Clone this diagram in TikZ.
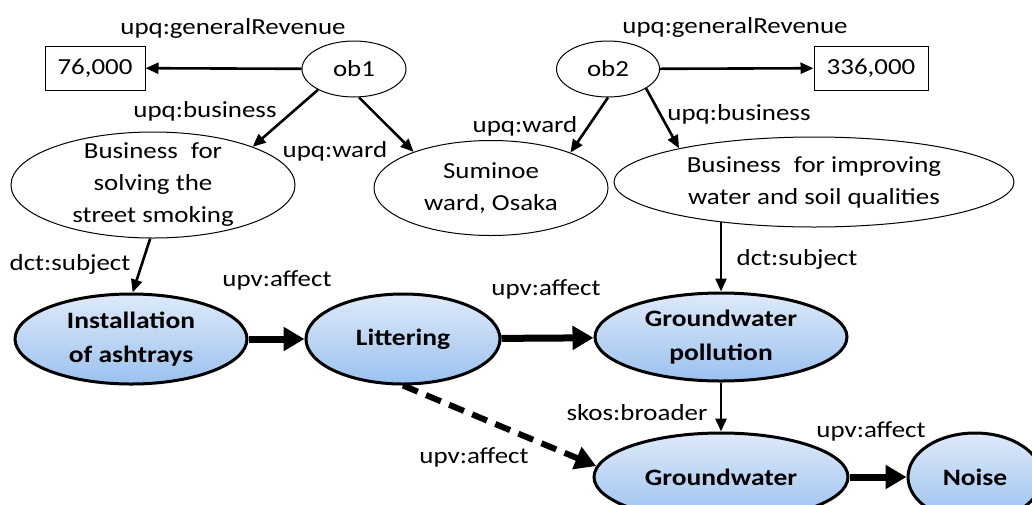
\documentclass[tikz,border=0pt]{standalone}
\usepackage{fontspec}
\setmainfont{Carlito}[FakeStretch=1.17]
\usetikzlibrary{arrows.meta,shapes.geometric}
\definecolor{topicTop}{HTML}{DEEAF9}
\definecolor{topicBot}{HTML}{9BC1EF}
\begin{document}
\begin{tikzpicture}[x=1pt,y=-1pt,
  every node/.style={font=\fontsize{23}{32}\selectfont},
  plain/.style={ellipse,draw,line width=1pt,inner sep=0pt},
  valbox/.style={rectangle,draw,line width=1pt,minimum height=44pt,inner sep=0pt},
  topic/.style={ellipse,draw,line width=3pt,inner sep=0pt,
    top color=topicTop,bottom color=topicBot},
  topictxt/.style={align=center,font=\fontsize{23.5}{34}\selectfont\bfseries},
  plaintxt/.style={align=center},
  rel/.style={line width=2.6pt,-{Triangle[length=13pt,width=11pt]}},
  strong/.style={line width=7pt,-{Triangle[length=21pt,width=23pt]}},
  weak/.style={line width=6pt,dash pattern=on 16pt off 9pt,-{Triangle[length=21pt,width=23pt]}},
  lbl/.style={anchor=base,inner sep=0pt}]
\useasboundingbox (0,0) rectangle (1032,504);
\clip (0,0) rectangle (1032,504);

% resource nodes
\node[valbox,minimum width=100pt] (v1) at (95,68) {76,000};
\node[valbox,minimum width=114pt] (v2) at (871,68) {336,000};
\node[plain,minimum width=104pt,minimum height=56pt] (ob1) at (354,69) {ob1};
\node[plain,minimum width=103pt,minimum height=56pt] (ob2) at (608,69) {ob2};
\node[plain,minimum width=284pt,minimum height=106pt,
  label={[plaintxt]center:Business\hspace{.3em} for\\solving the\\street smoking}] (bs) at (153,185) {};
\node[plain,minimum width=234pt,minimum height=95pt,
  label={[plaintxt]center:Suminoe\\ward, Osaka}] (sw) at (491,188) {};
\node[plain,minimum width=400pt,minimum height=90pt,
  label={[plaintxt]center:Business\hspace{.3em} for improving\\water and soil qualities}] (bi) at (814,182) {};

% topic nodes
\node[topic,minimum width=232pt,minimum height=90pt,
  label={[topictxt]center:Installation\\of ashtrays}] (inst) at (131,339) {};
\node[topic,minimum width=194pt,minimum height=90pt,
  label={[topictxt]center:Littering}] (lit) at (403,339) {};
\node[topic,minimum width=252pt,minimum height=88pt,
  label={[topictxt]center:Groundwater\\pollution}] (gp) at (721,337) {};
\node[topic,minimum width=254pt,minimum height=88pt,
  label={[topictxt]center:Groundwater}] (gw) at (721,477) {};
\node[topic,minimum width=134pt,minimum height=88pt,
  label={[topictxt]center:Noise}] (noise) at (975,477) {};

% thin relations
\draw[rel] (ob1) -- (v1);
\draw[rel] (ob2) -- (v2);
\draw[rel] (ob1.210) -- (bs.21);
\draw[rel] (ob1.-80) -- (sw.155);
\draw[rel] (ob2.270) -- (sw.24);
\draw[rel] (ob2.-27) -- (bi.166);
\draw[rel] (bs.267) -- (inst.88);
\draw[rel] (gp.north |- bi.203) -- (gp.north);
\draw[rel] (gp) -- (gw);

% effect relations
\draw[strong] (inst) -- (lit);
\draw[strong] (lit) -- (gp);
\draw[strong] (gw) -- (noise);
\draw[weak] (lit.south) -- (gw.175);

% relation labels
\node[lbl] (l1) at (233,34) {upq:generalRevenue};
\node[lbl] (l2) at (735,33) {upq:generalRevenue};
\node[lbl] (l3) at (205,117) {upq:business};
\node[lbl] (l4) at (335,157) {upq:ward};
\node[lbl] (l5) at (525,132) {upq:ward};
\node[lbl] (l6) at (739,120) {upq:business};
\node[lbl] (l7) at (70,270) {dct:subject};
\node[lbl] (l8) at (797,265) {dct:subject};
\node[lbl] (l9) at (277,286) {upv:affect};
\node[lbl] (l10) at (546,295) {upv:affect};
\node[lbl] (l11) at (474,463) {upv:affect};
\node[lbl] (l12) at (637,420) {skos:broader};
\node[lbl] (l13) at (871,437) {upv:affect};
\end{tikzpicture}
\end{document}
